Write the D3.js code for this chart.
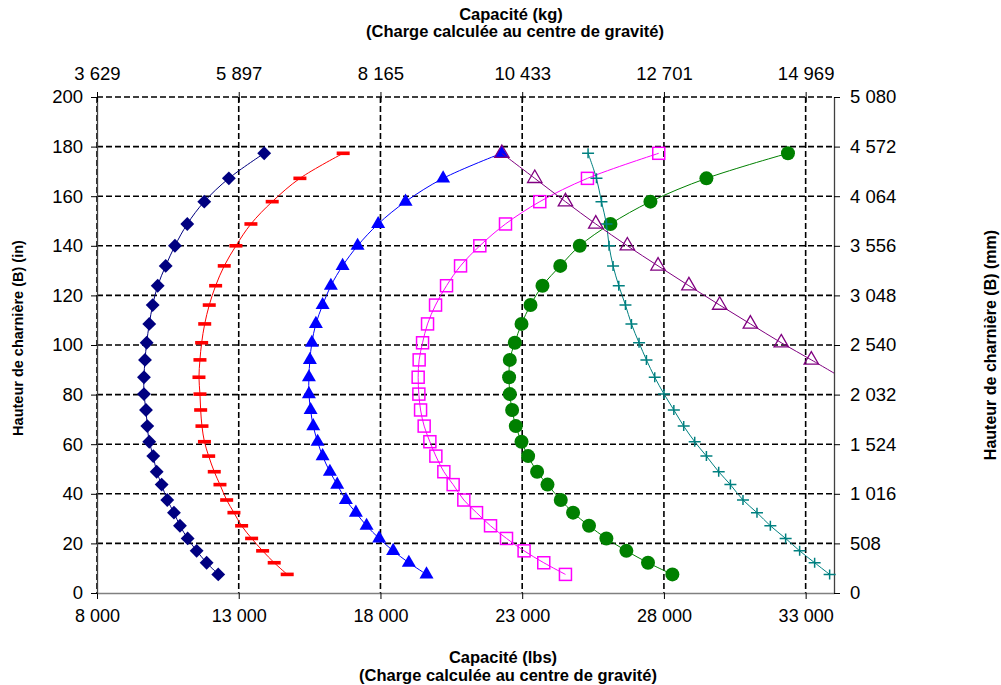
<!DOCTYPE html>
<html>
<head>
<meta charset="utf-8">
<script src="https://cdn.jsdelivr.net/npm/d3@7"></script>
<style>
body { margin: 0; background: #fff; }
text { font-family: "Liberation Sans", Arial, sans-serif; }
.title { font-weight: bold; font-size: 16.5px; }
.tick text { font-size: 18.5px; fill: #000; }
.bottom .tick text { font-size: 18px; }
</style>
</head>
<body>
<div class="container"></div>
<script>
// hauteur de charniere (in), common to every curve
var heights = [7.5, 12.2, 17, 22, 27.1, 32.4, 37.5, 43.7, 48.9, 55.2, 61, 67.3, 73.8, 80.2, 87, 94,
	100.9, 108.5, 116.1, 123.9, 131.9, 140, 148.8, 157.8, 167.2, 177.3];

// capacite (lbs) per curve, bottom to top
var navyLbs = [12277, 11868, 11515, 11198, 10927, 10715, 10479, 10281, 10105, 9985, 9844, 9774, 9728, 9657, 9657, 9693,
	9752, 9844, 9964, 10141, 10423, 10750, 11185, 11784, 12652, 13898];
var redLbs = [14710, 14252, 13843, 13455, 13102, 12831, 12574, 12338, 12137, 11940, 11790, 11703, 11657, 11632, 11597, 11632,
	11692, 11800, 11960, 12185, 12489, 12901, 13430, 14181, 15158, 16685];
var blueLbs = [19625, 19001, 18448, 17954, 17510, 17133, 16780, 16474, 16216, 15959, 15783, 15628, 15536, 15476, 15476, 15511,
	15580, 15722, 15959, 16251, 16664, 17193, 17919, 18885, 20210, 22270];
var magentaLbs = [24526, 23761, 23067, 22447, 21883, 21389, 20941, 20564, 20236, 19954, 19743, 19542, 19415, 19355, 19330, 19365,
	19485, 19661, 19943, 20331, 20825, 21505, 22411, 23621, 25302, 27817];
var greenLbs = [28298, 27438, 26675, 25970, 25357, 24795, 24361, 23892, 23526, 23209, 22976, 22774, 22645, 22563, 22538, 22563,
	22739, 22976, 23293, 23716, 24343, 25031, 26113, 27524, 29499, 32376];
var tealLbs = [33846, 33317, 32788, 32294, 31755, 31283, 30789, 30345, 29932, 29499, 29086, 28698, 28350, 28004, 27676, 27383,
	27122, 26854, 26643, 26407, 26206, 26065, 25973, 25797, 25620, 25324];
// purple curve only starts at 87 in (first point is off the chart)
var purpleHeights = [87, 94, 100.9, 108.5, 116.1, 123.9, 131.9, 140, 148.8, 157.8, 167.2, 177.3];
var purpleLbs = [34250, 33200, 32140, 31050, 29967, 28882, 27793, 26710, 25596, 24526, 23444, 22282];

// axes
var lbsTicks = [8000, 13000, 18000, 23000, 28000, 33000];
var kgLabels = ['3 629', '5 897', '8 165', '10 433', '12 701', '14 969'];
var inTicks = [0, 20, 40, 60, 80, 100, 120, 140, 160, 180, 200];
var mmLabels = ['0', '508', '1 016', '1 524', '2 032', '2 540', '3 048', '3 556', '4 064', '4 572', '5 080'];

var zip = function(xs, ys) {
	return xs.map(function(v, i) { return {lbs: v, h: ys[i]}; });
}

var series = [
	{color: '#000080', marker: 'diamond', pts: zip(navyLbs, heights)},
	{color: '#FF0000', marker: 'dash', pts: zip(redLbs, heights)},
	{color: '#0000FF', marker: 'triangle', pts: zip(blueLbs, heights)},
	{color: '#FF00FF', marker: 'square', pts: zip(magentaLbs, heights)},
	{color: '#008000', marker: 'circle', pts: zip(greenLbs, heights)},
	{color: '#008080', marker: 'plus', pts: zip(tealLbs, heights)},
	{color: '#800080', marker: 'opentriangle', pts: zip(purpleLbs, purpleHeights)}
];

var WIDTH = 1001, HEIGHT = 685;
var LEFT = 97, RIGHT = 834, TOP = 97, BOTTOM = 593;

var xScale = d3.scaleLinear().domain([8000, 34000]).range([LEFT, RIGHT]);
var yScale = d3.scaleLinear().domain([0, 200]).range([BOTTOM, TOP]);

var fr = d3.formatLocale({decimal: ',', thousands: ' ', grouping: [3], currency: ['', '']});
var fmt = fr.format(',');

var svg = d3.select('.container').append('svg')
	.attr('width', WIDTH)
	.attr('height', HEIGHT);

svg.append('defs').append('clipPath').attr('id', 'plot')
	.append('rect').attr('x', LEFT).attr('y', TOP).attr('width', RIGHT - LEFT).attr('height', BOTTOM - TOP);

// grid
var grid = svg.append('g').attr('stroke', '#000').attr('stroke-width', 1.6).attr('stroke-dasharray', '6,3');
grid.selectAll('.hg').data(inTicks.slice(1)).enter().append('line')
	.attr('x1', LEFT).attr('x2', RIGHT)
	.attr('y1', function(d) { return yScale(d); })
	.attr('y2', function(d) { return yScale(d); });
grid.selectAll('.vg').data(lbsTicks).enter().append('line')
	.attr('y1', TOP).attr('y2', BOTTOM)
	.attr('x1', function(d) { return xScale(d); })
	.attr('x2', function(d) { return xScale(d); });

// axes
var styleAxis = function(g, color) {
	g.select('.domain').attr('stroke', color).attr('stroke-width', 1.3);
	g.selectAll('.tick line').attr('stroke', '#000');
	g.selectAll('.tick text').attr('font-family', '"Liberation Sans", Arial, sans-serif');
}

svg.append('g').attr('class', 'bottom').attr('transform', 'translate(0,' + BOTTOM + ')')
	.call(d3.axisBottom(xScale).tickValues(lbsTicks).tickFormat(fmt).tickSize(6).tickSizeOuter(0).tickPadding(10))
	.call(styleAxis, '#808080');

svg.append('g').attr('transform', 'translate(' + LEFT + ',0)')
	.call(d3.axisLeft(yScale).tickValues(inTicks).tickSize(6).tickSizeOuter(0).tickPadding(8))
	.call(styleAxis, '#404040');

var topAxis = svg.append('g').attr('transform', 'translate(0,' + TOP + ')')
	.call(d3.axisTop(xScale).tickValues(lbsTicks).tickFormat(function(d, i) { return kgLabels[i]; })
		.tickSize(5).tickSizeOuter(0).tickPadding(12))
	.call(styleAxis, 'none');
topAxis.selectAll('.tick line').attr('y2', 5).attr('y1', -5);

svg.append('g').attr('transform', 'translate(' + RIGHT + ',0)')
	.call(d3.axisRight(yScale).tickValues(inTicks).tickFormat(function(d, i) { return mmLabels[i]; })
		.tickSize(6).tickSizeOuter(0).tickPadding(10))
	.call(styleAxis, '#404040');

// curves
var line = d3.line()
	.curve(d3.curveCatmullRom)
	.x(function(d) { return xScale(d.lbs); })
	.y(function(d) { return yScale(d.h); });

var drawMarker = function(g, s) {
	var pts = s.pts.filter(function(d) { return d.lbs <= xScale.domain()[1]; });
	var sel = g.selectAll('.m').data(pts).enter().append('g')
		.attr('transform', function(d) { return 'translate(' + xScale(d.lbs) + ',' + yScale(d.h) + ')'; });
	if (s.marker == 'diamond') {
		sel.append('path').attr('d', d3.symbol(d3.symbolSquare, 96)()).attr('transform', 'rotate(45)').attr('fill', s.color);
	} else if (s.marker == 'dash') {
		sel.append('rect').attr('x', -6.5).attr('y', -1.8).attr('width', 13).attr('height', 3.6).attr('fill', s.color);
	} else if (s.marker == 'triangle') {
		sel.append('path').attr('d', d3.symbol(d3.symbolTriangle, 85)()).attr('fill', s.color);
	} else if (s.marker == 'square') {
		sel.append('rect').attr('x', -6).attr('y', -6).attr('width', 12).attr('height', 12)
			.attr('fill', 'none').attr('stroke', s.color).attr('stroke-width', 1.5);
	} else if (s.marker == 'circle') {
		sel.append('circle').attr('r', 7).attr('fill', s.color);
	} else if (s.marker == 'plus') {
		sel.append('path').attr('d', 'M-6,0H6M0,-5V5').attr('stroke', s.color).attr('stroke-width', 1.5);
	} else if (s.marker == 'opentriangle') {
		sel.append('path').attr('d', d3.symbol(d3.symbolTriangle, 90)())
			.attr('fill', 'none').attr('stroke', s.color).attr('stroke-width', 1.3);
	}
}

series.forEach(function(s) {
	var g = svg.append('g');
	g.append('path').datum(s.pts)
		.attr('d', line)
		.attr('fill', 'none')
		.attr('stroke', s.color)
		.attr('stroke-width', 1)
		.attr('clip-path', 'url(#plot)');
	drawMarker(g, s);
});

// titles
var addText = function(x, y, txt, size, rot) {
	var t = svg.append('text').attr('class', 'title').attr('text-anchor', 'middle').text(txt);
	if (size) t.style('font-size', size + 'px');
	if (rot) t.attr('transform', 'translate(' + x + ',' + y + ') rotate(-90)');
	else t.attr('x', x).attr('y', y);
	return t;
}
addText(511, 20, 'Capacité (kg)');
addText(515, 37, '(Charge calculée au centre de gravité)');
addText(503, 663, 'Capacité (lbs)');
addText(508, 681, '(Charge calculée au centre de gravité)');
addText(23, 338, 'Hauteur de charnière (B) (in)', 14.5, true);
addText(996, 345, 'Hauteur de charnière (B) (mm)', 16, true);
</script>
</body>
</html>
